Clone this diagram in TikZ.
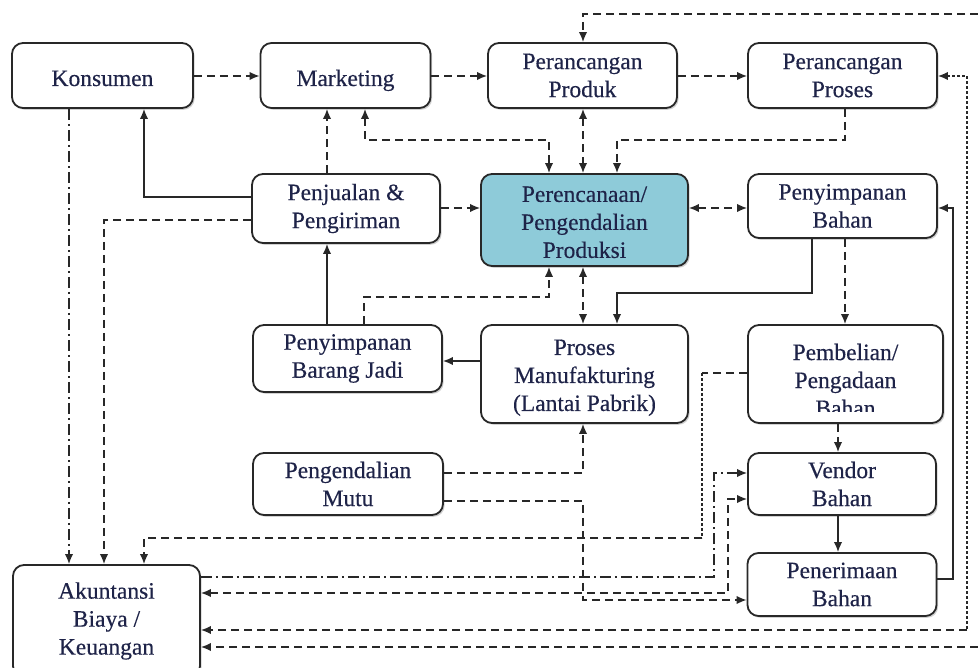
\documentclass[tikz,border=0pt]{standalone}
\usepackage{fontspec}
\setmainfont{Liberation Serif}
\newfontfamily\boxfont{Liberation Serif}[FakeBold=0.35]
\usetikzlibrary{arrows.meta,shadows}
\definecolor{lineC}{RGB}{40,40,40}
\definecolor{txtC}{RGB}{30,35,72}
\definecolor{ppcFill}{RGB}{142,203,217}
% invisible strut that lowers the first line of a box label
\newcommand{\firstline}[1]{\rule{0pt}{#1}}
\tikzset{
  boxtext/.style={align=center, inner sep=0pt, text=txtC,
    font=\boxfont\fontsize{23.5}{28}\selectfont},
  box/.style={boxtext, draw=lineC, line width=1.8pt, rounded corners=11pt, fill=white,
    drop shadow={shadow xshift=1.6pt, shadow yshift=-1.8pt, fill=black!30, opacity=0.6}},
  oneline/.style={text height=21pt, text depth=0pt},
  solidc/.style={draw=lineC, line width=1.6pt},
  dashc/.style={solidc, dash pattern=on 8pt off 5pt},
  dotc/.style={solidc, dash pattern=on 3pt off 2pt},
  dashdotc/.style={solidc, dash pattern=on 11pt off 4pt on 2pt off 4pt},
}
\begin{document}
\begin{tikzpicture}[x=1pt, y=-1pt, >={Latex[length=10pt,width=8.5pt]}]
\useasboundingbox (0,0) rectangle (978,668);

% ---- boxes ----
\node[box, oneline, minimum width=181pt, minimum height=65pt] (kon) at (102.5,75.5) {Konsumen};
\node[box, oneline, minimum width=170pt, minimum height=65pt] (mkt) at (345.5,75.5) {Marketing};
\node[box, minimum width=189pt, minimum height=65pt] (prod) at (582.5,75.5) {Perancangan\\Produk};
\node[box, minimum width=189pt, minimum height=65pt] (proses) at (842.5,75.5) {Perancangan\\Proses};

\node[box, minimum width=188pt, minimum height=69pt] (jual) at (346,208.5) {Penjualan \&\\Pengiriman};
\node[box, fill=ppcFill, minimum width=207pt, minimum height=92pt] (ppc) at (584.5,220) {\firstline{20pt}Perencanaan/\\Pengendalian\\Produksi};
\node[box, minimum width=189pt, minimum height=64pt] (simbhn) at (842.5,206) {Penyimpanan\\Bahan};

\node[box, minimum width=189pt, minimum height=67pt] (bjadi) at (347.5,358.5) {Penyimpanan\\Barang Jadi};
\node[box, minimum width=207pt, minimum height=98pt] (mfg) at (584.5,374) {\firstline{23pt}Proses\\Manufakturing\\(Lantai Pabrik)};
\node[box, minimum width=195pt, minimum height=98pt] (beli) at (845.5,374) {};
\begin{scope}
  \clip (748,325) rectangle (943,412);
  \node[boxtext] (belitext) at (845.5,380) {Pembelian/\\Pengadaan\\Bahan};
\end{scope}

\node[box, minimum width=190pt, minimum height=62pt] (mutu) at (348,484) {Pengendalian\\Mutu};
\node[box, minimum width=188pt, minimum height=62pt] (vendor) at (842,484) {Vendor\\Bahan};
\node[box, minimum width=189pt, minimum height=63pt] (terima) at (842,584.5) {Penerimaan\\Bahan};

\node[box, minimum width=187pt, minimum height=112pt] (akt) at (106.5,621) {Akuntansi\\Biaya /\\Keuangan};

% ---- top row flow ----
\draw[dashc,->] (kon.east |- 0,76) -- (mkt.west |- 0,76);
\draw[dashc,->] (mkt.east |- 0,76) -- (prod.west |- 0,76);
\draw[dashc,->] (prod.east |- 0,76) -- (proses.west |- 0,76);

% long loop leaving over the top and returning along the bottom
\coordinate (topEdge) at (978,14);
\coordinate (botEdge) at (978,647);
\draw[dashc,->] (topEdge) -- (583,14) -- (prod.north -| 583,0);
\draw[dashc,->] (botEdge) -- (akt.east |- 0,647);

% right-hand loop: Perancangan Proses <-> Akuntansi
\coordinate (rcorner) at (967,630);
\draw[dotc,<-] (proses.east |- 0,76) -- (967,76) -- (rcorner);
\draw[dashc,->] (rcorner) -- (akt.east |- 0,630);

% ---- left column ----
\draw[dashdotc,->] (kon.south -| 69,0) -- (akt.north -| 69,0);
\draw[solidc,->] (jual.west |- 0,197) -- (144,197) -- (kon.south -| 144,0);
\draw[dashc,->] (jual.north -| 327,0) -- (mkt.south -| 327,0);
\draw[dashc,->] (jual.west |- 0,220) -- (104,220) -- (akt.north -| 104,0);

% ---- links into the planning box ----
\draw[dashc,<->] (mkt.south -| 365,0) -- (365,140) -- (549,140) -- (ppc.north -| 549,0);
\draw[dashc,<->] (prod.south -| 583,0) -- (ppc.north -| 583,0);
\draw[dashc,->] (proses.south -| 845,0) -- (845,140) -- (617,140) -- (ppc.north -| 617,0);
\draw[dashc,->] (jual.east |- 0,208) -- (ppc.west |- 0,208);
\draw[dashc,<->] (ppc.east |- 0,208) -- (simbhn.west |- 0,208);
\draw[dashc,<->] (ppc.south -| 583,0) -- (mfg.north -| 583,0);
\draw[dashc,->] (bjadi.north -| 364,0) -- (364,297) -- (549,297) -- (ppc.south -| 549,0);

% ---- material flow ----
\draw[solidc,->] (simbhn.south -| 812,0) -- (812,293) -- (617,293) -- (mfg.north -| 617,0);
\draw[dashc,->] (simbhn.south -| 845,0) -- (beli.north -| 845,0);
\draw[solidc,->] (bjadi.north -| 327,0) -- (jual.south -| 327,0);
\draw[solidc,->] (mfg.west |- 0,361) -- (bjadi.east |- 0,361);
\draw[dashc,->] (beli.south -| 838,0) -- (vendor.north -| 838,0);
\draw[solidc,->] (vendor.south -| 838,0) -- (terima.north -| 838,0);
\draw[solidc,->] (terima.east |- 0,579) -- (953,579) -- (953,208) -- (simbhn.east |- 0,208);

% ---- quality control ----
\draw[dashc,->] (mutu.east |- 0,473) -- (583,473) -- (mfg.south -| 583,0);
\draw[dashc,->] (mutu.east |- 0,501) -- (583,501) -- (583,600) -- (terima.west |- 0,600);

% ---- purchasing to accounting ----
\coordinate (bc1) at (702,373);
\coordinate (bc2) at (702,538);
\draw[dashc] (beli.west |- 0,373) -- (bc1);
\draw[dotc] (bc1) -- (bc2);
\draw[dashc,->] (bc2) -- (144,538) -- (akt.north -| 144,0);

% ---- accounting <-> vendor ----
\draw[dashdotc,->] (akt.east |- 0,577) -- (714,577) -- (714,473) -- (vendor.west |- 0,473);
\draw[dashc,<->] (akt.east |- 0,593) -- (728,593) -- (728,499) -- (vendor.west |- 0,499);
\end{tikzpicture}
\end{document}
